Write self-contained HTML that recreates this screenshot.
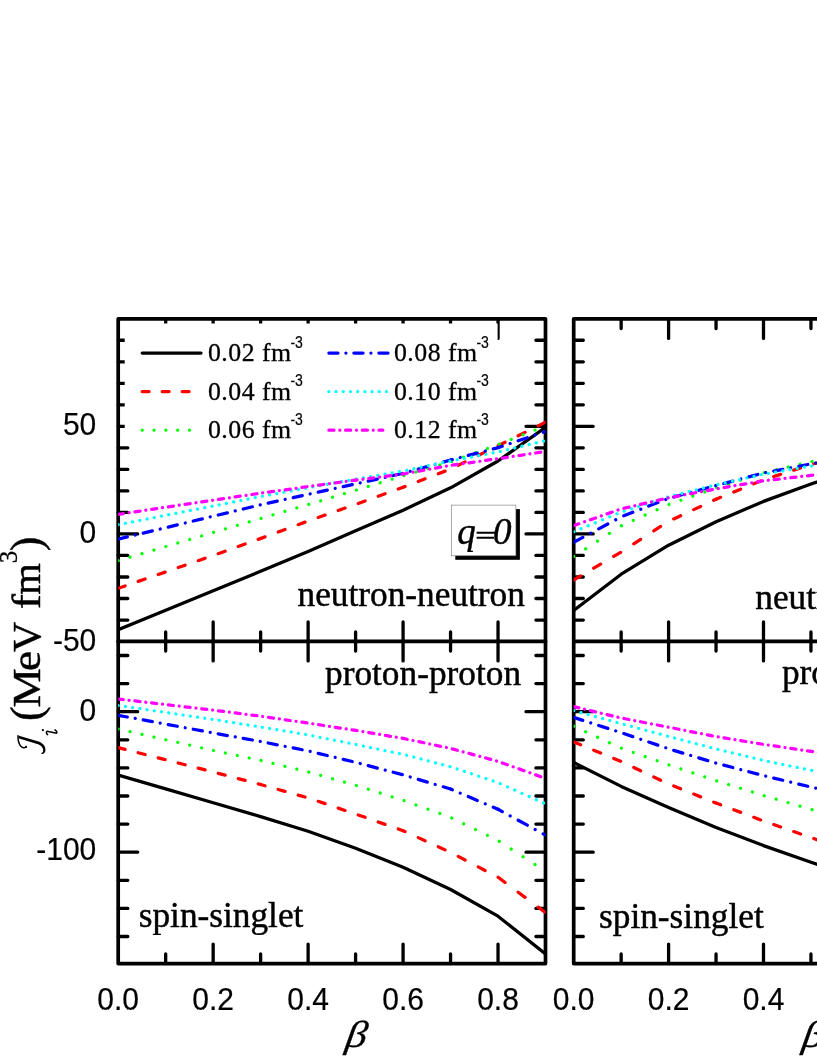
<!DOCTYPE html>
<html><head><meta charset="utf-8"><title>chart</title>
<style>html,body{margin:0;padding:0;background:#fff}svg{display:block}text{font-family:"Liberation Serif",serif;fill:#000;stroke:#000;stroke-width:0.3px;stroke-linejoin:round}.b{stroke-width:0.45px}text{filter:grayscale(1)}.s{font-family:"Liberation Sans",sans-serif;stroke-width:0.2px}</style>
</head><body>
<svg width="817" height="1058" viewBox="0 0 817 1058">
<rect width="817" height="1058" fill="#fff"/>
<defs>
<clipPath id="c1t"><rect x="118.2" y="318.95" width="427.3" height="322.45"/></clipPath>
<clipPath id="c1b"><rect x="118.2" y="641.4" width="427.3" height="322.20000000000005"/></clipPath>
<clipPath id="c2t"><rect x="573.7" y="318.95" width="253.29999999999995" height="322.45"/></clipPath>
<clipPath id="c2b"><rect x="573.7" y="641.4" width="253.29999999999995" height="322.20000000000005"/></clipPath>
</defs>
<path d="M118.20 620.03H127.80M535.90 620.03H545.50M118.20 598.51H127.80M535.90 598.51H545.50M118.20 576.99H127.80M535.90 576.99H545.50M118.20 555.47H127.80M535.90 555.47H545.50M118.20 533.95H137.70M526.00 533.95H545.50M118.20 512.43H127.80M535.90 512.43H545.50M118.20 490.91H127.80M535.90 490.91H545.50M118.20 469.39H127.80M535.90 469.39H545.50M118.20 447.87H127.80M535.90 447.87H545.50M118.20 426.35H137.70M526.00 426.35H545.50M118.20 404.83H127.80M535.90 404.83H545.50M118.20 383.31H127.80M535.90 383.31H545.50M118.20 361.79H127.80M535.90 361.79H545.50M118.20 340.27H127.80M535.90 340.27H545.50M118.20 936.50H127.80M535.90 936.50H545.50M118.20 908.40H127.80M535.90 908.40H545.50M118.20 880.30H127.80M535.90 880.30H545.50M118.20 852.20H137.70M526.00 852.20H545.50M118.20 824.10H127.80M535.90 824.10H545.50M118.20 796.00H127.80M535.90 796.00H545.50M118.20 767.90H127.80M535.90 767.90H545.50M118.20 739.80H127.80M535.90 739.80H545.50M118.20 711.70H137.70M526.00 711.70H545.50M118.20 683.60H127.80M535.90 683.60H545.50M118.20 655.50H127.80M535.90 655.50H545.50M573.70 620.03H583.30M573.70 598.51H583.30M573.70 576.99H583.30M573.70 555.47H583.30M573.70 533.95H593.20M573.70 512.43H583.30M573.70 490.91H583.30M573.70 469.39H583.30M573.70 447.87H583.30M573.70 426.35H593.20M573.70 404.83H583.30M573.70 383.31H583.30M573.70 361.79H583.30M573.70 340.27H583.30M573.70 936.50H583.30M573.70 908.40H583.30M573.70 880.30H583.30M573.70 852.20H593.20M573.70 824.10H583.30M573.70 796.00H583.30M573.70 767.90H583.30M573.70 739.80H583.30M573.70 711.70H593.20M573.70 683.60H583.30M573.70 655.50H583.30M165.68 318.95V328.55M165.68 631.80V651.00M165.68 954.00V963.60M213.16 318.95V338.45M213.16 621.90V660.90M213.16 944.10V963.60M260.64 318.95V328.55M260.64 631.80V651.00M260.64 954.00V963.60M308.12 318.95V338.45M308.12 621.90V660.90M308.12 944.10V963.60M355.60 318.95V328.55M355.60 631.80V651.00M355.60 954.00V963.60M403.08 318.95V338.45M403.08 621.90V660.90M403.08 944.10V963.60M450.56 318.95V328.55M450.56 631.80V651.00M450.56 954.00V963.60M498.04 318.95V338.45M498.04 621.90V660.90M498.04 944.10V963.60M621.15 318.95V328.55M621.15 631.80V651.00M621.15 954.00V963.60M668.60 318.95V338.45M668.60 621.90V660.90M668.60 944.10V963.60M716.05 318.95V328.55M716.05 631.80V651.00M716.05 954.00V963.60M763.50 318.95V338.45M763.50 621.90V660.90M763.50 944.10V963.60M810.95 318.95V328.55M810.95 631.80V651.00M810.95 954.00V963.60M858.40 318.95V338.45M858.40 621.90V660.90M858.40 944.10V963.60" stroke="#000" stroke-width="3.3" fill="none" stroke-linecap="round"/>
<g stroke="#000" stroke-width="3.7" fill="none" stroke-linejoin="round" stroke-linecap="round">
<rect x="118.2" y="318.95" width="427.3" height="644.6500000000001"/>
<path d="M118.2 641.4H545.5"/>
<path d="M827 318.95H573.7V963.6H827M573.7 641.4H827"/>
</g>
<rect x="124.7" y="323.5" width="372.90000000000003" height="113.5" fill="#fff"/>
<g clip-path="url(#c1t)" fill="none" stroke-width="3.25" stroke-linecap="round" stroke-linejoin="round">
<polyline points="118.2,629.8 165.7,610.2 213.2,590.7 260.6,571.3 308.1,551.4 355.6,530.8 403.1,510.2 450.6,487.8 498.0,461.0 545.5,427.4" stroke="#000"/>
<g stroke="#ff0000">
<path d="M118.2 588.3L165.7 571.9" stroke-dasharray="7.300 13.859" stroke-dashoffset="0.000"/>
<path d="M165.7 571.9L213.2 555.5" stroke-dasharray="7.300 13.859" stroke-dashoffset="7.914"/>
<path d="M213.2 555.5L260.6 538.5" stroke-dasharray="7.329 13.914" stroke-dashoffset="15.890"/>
<path d="M260.6 538.5L308.1 521.0" stroke-dasharray="7.354 13.961" stroke-dashoffset="2.600"/>
<path d="M308.1 521.0L355.6 504.4" stroke-dasharray="7.310 13.878" stroke-dashoffset="10.509"/>
<path d="M355.6 504.4L403.1 487.3" stroke-dasharray="7.334 13.924" stroke-dashoffset="18.494"/>
<path d="M403.1 487.3L450.6 469.0" stroke-dasharray="7.395 14.039" stroke-dashoffset="5.230"/>
<path d="M450.6 469.0L498.0 445.8" stroke-dasharray="7.680 14.580" stroke-dashoffset="13.757"/>
<path d="M498.0 445.8L545.5 422.2" stroke-dasharray="7.705 14.629" stroke-dashoffset="22.156"/>
</g>
<g stroke="#00ff00">
<path d="M118.2 560.7L165.7 546.6" stroke-dasharray="0.010 12.414" stroke-dashoffset="0.000"/>
<path d="M165.7 546.6L213.2 532.5" stroke-dasharray="0.010 12.414" stroke-dashoffset="12.257"/>
<path d="M213.2 532.5L260.6 518.5" stroke-dasharray="0.010 12.407" stroke-dashoffset="12.083"/>
<path d="M260.6 518.5L308.1 504.6" stroke-dasharray="0.010 12.399" stroke-dashoffset="11.910"/>
<path d="M308.1 504.6L355.6 490.3" stroke-dasharray="0.010 12.428" stroke-dashoffset="11.770"/>
<path d="M355.6 490.3L403.1 475.8" stroke-dasharray="0.010 12.443" stroke-dashoffset="11.617"/>
<path d="M403.1 475.8L450.6 461.8" stroke-dasharray="0.010 12.407" stroke-dashoffset="11.416"/>
<path d="M450.6 461.8L498.0 444.6" stroke-dasharray="0.011 12.657" stroke-dashoffset="11.476"/>
<path d="M498.0 444.6L545.5 426.0" stroke-dasharray="0.011 12.781" stroke-dashoffset="11.417"/>
</g>
<g stroke="#0000ff">
<path d="M118.2 539.1L165.7 527.7" stroke-dasharray="9.359 8.125 0.010 8.217" stroke-dashoffset="0.000"/>
<path d="M165.7 527.7L213.2 516.2" stroke-dasharray="9.363 8.128 0.010 8.221" stroke-dashoffset="23.130"/>
<path d="M213.2 516.2L260.6 504.8" stroke-dasharray="9.359 8.125 0.010 8.217" stroke-dashoffset="20.527"/>
<path d="M260.6 504.8L308.1 494.3" stroke-dasharray="9.320 8.091 0.010 8.183" stroke-dashoffset="17.861"/>
<path d="M308.1 494.3L355.6 483.9" stroke-dasharray="9.316 8.087 0.010 8.179" stroke-dashoffset="15.274"/>
<path d="M355.6 483.9L403.1 473.3" stroke-dasharray="9.324 8.094 0.010 8.187" stroke-dashoffset="12.705"/>
<path d="M403.1 473.3L450.6 460.0" stroke-dasharray="9.450 8.204 0.010 8.298" stroke-dashoffset="10.260"/>
<path d="M450.6 460.0L498.0 447.7" stroke-dasharray="9.400 8.161 0.010 8.254" stroke-dashoffset="7.603"/>
<path d="M498.0 447.7L545.5 431.5" stroke-dasharray="9.615 8.347 0.011 8.442" stroke-dashoffset="5.114"/>
</g>
<g stroke="#00ffff">
<path d="M118.2 524.7L165.7 515.3" stroke-dasharray="0.010 7.340" stroke-dashoffset="0.000"/>
<path d="M165.7 515.3L213.2 506.0" stroke-dasharray="0.010 7.337" stroke-dashoffset="4.300"/>
<path d="M213.2 506.0L260.6 496.6" stroke-dasharray="0.010 7.340" stroke-dashoffset="1.254"/>
<path d="M260.6 496.6L308.1 487.8" stroke-dasharray="0.010 7.323" stroke-dashoffset="5.543"/>
<path d="M308.1 487.8L355.6 479.2" stroke-dasharray="0.010 7.317" stroke-dashoffset="2.500"/>
<path d="M355.6 479.2L403.1 471.0" stroke-dasharray="0.010 7.307" stroke-dashoffset="6.779"/>
<path d="M403.1 471.0L450.6 461.0" stroke-dasharray="0.010 7.358" stroke-dashoffset="3.771"/>
<path d="M450.6 461.0L498.0 452.0" stroke-dasharray="0.010 7.328" stroke-dashoffset="0.712"/>
<path d="M498.0 452.0L545.5 440.6" stroke-dasharray="0.010 7.405" stroke-dashoffset="5.060"/>
</g>
<g stroke="#ff00ff">
<path d="M118.2 514.3L165.7 507.2" stroke-dasharray="5.157 5.864 0.010 5.854" stroke-dashoffset="0.000"/>
<path d="M165.7 507.2L213.2 500.2" stroke-dasharray="5.155 5.863 0.010 5.853" stroke-dashoffset="14.232"/>
<path d="M213.2 500.2L260.6 493.2" stroke-dasharray="5.155 5.863 0.010 5.853" stroke-dashoffset="11.584"/>
<path d="M260.6 493.2L308.1 486.6" stroke-dasharray="5.149 5.856 0.010 5.846" stroke-dashoffset="8.925"/>
<path d="M308.1 486.6L355.6 480.2" stroke-dasharray="5.146 5.852 0.010 5.842" stroke-dashoffset="6.276"/>
<path d="M355.6 480.2L403.1 474.0" stroke-dasharray="5.143 5.849 0.010 5.839" stroke-dashoffset="3.631"/>
<path d="M403.1 474.0L450.6 465.4" stroke-dasharray="5.183 5.894 0.010 5.884" stroke-dashoffset="0.996"/>
<path d="M450.6 465.4L498.0 458.7" stroke-dasharray="5.151 5.857 0.010 5.847" stroke-dashoffset="15.209"/>
<path d="M498.0 458.7L545.5 451.5" stroke-dasharray="5.158 5.866 0.010 5.856" stroke-dashoffset="12.582"/>
</g>
</g>
<g clip-path="url(#c1b)" fill="none" stroke-width="3.25" stroke-linecap="round" stroke-linejoin="round">
<polyline points="118.2,775.0 165.7,788.9 213.2,802.8 260.6,816.6 308.1,831.2 355.6,848.3 403.1,867.2 450.6,889.5 498.0,916.2 545.5,954.0" stroke="#000"/>
<g stroke="#ff0000">
<path d="M118.2 747.6L165.7 759.8" stroke-dasharray="7.124 13.526" stroke-dashoffset="0.000"/>
<path d="M165.7 759.8L213.2 772.0" stroke-dasharray="7.124 13.526" stroke-dashoffset="7.723"/>
<path d="M213.2 772.0L260.6 784.5" stroke-dasharray="7.135 13.546" stroke-dashoffset="15.470"/>
<path d="M260.6 784.5L308.1 797.9" stroke-dasharray="7.170 13.612" stroke-dashoffset="2.535"/>
<path d="M308.1 797.9L355.6 814.0" stroke-dasharray="7.286 13.833" stroke-dashoffset="10.475"/>
<path d="M355.6 814.0L403.1 830.7" stroke-dasharray="7.314 13.887" stroke-dashoffset="18.445"/>
<path d="M403.1 830.7L450.6 852.4" stroke-dasharray="7.586 14.403" stroke-dashoffset="5.366"/>
<path d="M450.6 852.4L498.0 877.2" stroke-dasharray="7.785 14.779" stroke-dashoffset="13.944"/>
<path d="M498.0 877.2L545.5 912.6" stroke-dasharray="8.607 16.340" stroke-dashoffset="24.747"/>
</g>
<g stroke="#00ff00">
<path d="M118.2 729.0L165.7 739.7" stroke-dasharray="0.010 12.198" stroke-dashoffset="0.000"/>
<path d="M165.7 739.7L213.2 750.4" stroke-dasharray="0.010 12.198" stroke-dashoffset="12.045"/>
<path d="M213.2 750.4L260.6 760.4" stroke-dasharray="0.010 12.161" stroke-dashoffset="11.844"/>
<path d="M260.6 760.4L308.1 771.9" stroke-dasharray="0.010 12.244" stroke-dashoffset="11.760"/>
<path d="M308.1 771.9L355.6 785.2" stroke-dasharray="0.010 12.358" stroke-dashoffset="11.704"/>
<path d="M355.6 785.2L403.1 800.3" stroke-dasharray="0.010 12.487" stroke-dashoffset="11.658"/>
<path d="M403.1 800.3L450.6 817.4" stroke-dasharray="0.011 12.648" stroke-dashoffset="11.639"/>
<path d="M450.6 817.4L498.0 840.5" stroke-dasharray="0.011 13.234" stroke-dashoffset="11.999"/>
<path d="M498.0 840.5L545.5 871.3" stroke-dasharray="0.012 14.185" stroke-dashoffset="12.671"/>
</g>
<g stroke="#0000ff">
<path d="M118.2 715.3L165.7 724.1" stroke-dasharray="9.255 8.035 0.010 8.126" stroke-dashoffset="0.000"/>
<path d="M165.7 724.1L213.2 733.0" stroke-dasharray="9.258 8.038 0.010 8.129" stroke-dashoffset="22.872"/>
<path d="M213.2 733.0L260.6 741.5" stroke-dasharray="9.245 8.026 0.010 8.117" stroke-dashoffset="20.277"/>
<path d="M260.6 741.5L308.1 750.9" stroke-dasharray="9.277 8.053 0.010 8.145" stroke-dashoffset="17.778"/>
<path d="M308.1 750.9L355.6 762.3" stroke-dasharray="9.359 8.125 0.010 8.217" stroke-dashoffset="15.344"/>
<path d="M355.6 762.3L403.1 774.9" stroke-dasharray="9.415 8.173 0.010 8.267" stroke-dashoffset="12.829"/>
<path d="M403.1 774.9L450.6 789.0" stroke-dasharray="9.493 8.241 0.010 8.335" stroke-dashoffset="10.306"/>
<path d="M450.6 789.0L498.0 809.3" stroke-dasharray="9.897 8.592 0.011 8.690" stroke-dashoffset="8.004"/>
<path d="M498.0 809.3L545.5 835.1" stroke-dasharray="10.357 8.991 0.011 9.093" stroke-dashoffset="5.508"/>
</g>
<g stroke="#00ffff">
<path d="M118.2 705.5L165.7 712.5" stroke-dasharray="0.010 7.278" stroke-dashoffset="0.000"/>
<path d="M165.7 712.5L213.2 719.5" stroke-dasharray="0.010 7.278" stroke-dashoffset="4.266"/>
<path d="M213.2 719.5L260.6 727.0" stroke-dasharray="0.010 7.289" stroke-dashoffset="1.245"/>
<path d="M260.6 727.0L308.1 734.9" stroke-dasharray="0.010 7.299" stroke-dashoffset="5.525"/>
<path d="M308.1 734.9L355.6 744.5" stroke-dasharray="0.010 7.346" stroke-dashoffset="2.510"/>
<path d="M355.6 744.5L403.1 754.3" stroke-dasharray="0.010 7.352" stroke-dashoffset="6.821"/>
<path d="M403.1 754.3L450.6 766.8" stroke-dasharray="0.010 7.445" stroke-dashoffset="3.816"/>
<path d="M450.6 766.8L498.0 782.6" stroke-dasharray="0.011 7.588" stroke-dashoffset="0.738"/>
<path d="M498.0 782.6L545.5 803.9" stroke-dasharray="0.011 7.891" stroke-dashoffset="5.392"/>
</g>
<g stroke="#ff00ff">
<path d="M118.2 699.0L165.7 704.6" stroke-dasharray="5.135 5.840 0.010 5.830" stroke-dashoffset="0.000"/>
<path d="M165.7 704.6L213.2 710.1" stroke-dasharray="5.134 5.839 0.010 5.829" stroke-dashoffset="14.174"/>
<path d="M213.2 710.1L260.6 716.2" stroke-dasharray="5.142 5.848 0.010 5.838" stroke-dashoffset="11.554"/>
<path d="M260.6 716.2L308.1 723.1" stroke-dasharray="5.154 5.861 0.010 5.851" stroke-dashoffset="8.933"/>
<path d="M308.1 723.1L355.6 730.4" stroke-dasharray="5.160 5.868 0.010 5.858" stroke-dashoffset="6.293"/>
<path d="M355.6 730.4L403.1 738.4" stroke-dasharray="5.172 5.882 0.010 5.872" stroke-dashoffset="3.651"/>
<path d="M403.1 738.4L450.6 748.4" stroke-dasharray="5.212 5.927 0.010 5.917" stroke-dashoffset="1.001"/>
<path d="M450.6 748.4L498.0 761.4" stroke-dasharray="5.288 6.013 0.010 6.003" stroke-dashoffset="15.614"/>
<path d="M498.0 761.4L545.5 778.4" stroke-dasharray="5.417 6.161 0.011 6.150" stroke-dashoffset="13.213"/>
</g>
</g>
<g clip-path="url(#c2t)" fill="none" stroke-width="3.25" stroke-linecap="round" stroke-linejoin="round">
<polyline points="573.7,610.4 621.2,574.2 668.6,545.2 716.1,521.7 763.5,501.4 811.0,484.0 858.4,468.0" stroke="#000"/>
<g stroke="#ff0000">
<path d="M573.7 580.0L621.2 552.0" stroke-dasharray="8.012 15.211" stroke-dashoffset="0.000"/>
<path d="M621.2 552.0L668.6 521.3" stroke-dasharray="8.218 15.603" stroke-dashoffset="8.873"/>
<path d="M668.6 521.3L716.1 499.2" stroke-dasharray="7.612 14.451" stroke-dashoffset="16.437"/>
<path d="M716.1 499.2L763.5 479.8" stroke-dasharray="7.454 14.153" stroke-dashoffset="2.539"/>
<path d="M763.5 479.8L811.0 464.6" stroke-dasharray="7.245 13.756" stroke-dashoffset="10.291"/>
<path d="M811.0 464.6L858.4 451.0" stroke-dasharray="7.178 13.627" stroke-dashoffset="17.945"/>
</g>
<g stroke="#00ff00">
<path d="M573.7 556.5L621.2 525.8" stroke-dasharray="0.012 14.174" stroke-dashoffset="0.000"/>
<path d="M621.2 525.8L668.6 504.6" stroke-dasharray="0.011 13.034" stroke-dashoffset="12.837"/>
<path d="M668.6 504.6L716.1 488.0" stroke-dasharray="0.011 12.607" stroke-dashoffset="12.215"/>
<path d="M716.1 488.0L763.5 472.7" stroke-dasharray="0.011 12.503" stroke-dashoffset="11.915"/>
<path d="M763.5 472.7L811.0 461.7" stroke-dasharray="0.010 12.216" stroke-dashoffset="11.446"/>
<path d="M811.0 461.7L858.4 452.0" stroke-dasharray="0.010 12.146" stroke-dashoffset="11.187"/>
</g>
<g stroke="#0000ff">
<path d="M573.7 542.2L621.2 516.8" stroke-dasharray="10.322 8.961 0.011 9.063" stroke-dashoffset="0.000"/>
<path d="M621.2 516.8L668.6 498.4" stroke-dasharray="9.760 8.473 0.011 8.570" stroke-dashoffset="24.079"/>
<path d="M668.6 498.4L716.1 485.5" stroke-dasharray="9.430 8.187 0.010 8.280" stroke-dashoffset="20.622"/>
<path d="M716.1 485.5L763.5 473.0" stroke-dasharray="9.410 8.170 0.010 8.263" stroke-dashoffset="17.942"/>
<path d="M763.5 473.0L811.0 463.9" stroke-dasharray="9.266 8.044 0.010 8.136" stroke-dashoffset="15.070"/>
<path d="M811.0 463.9L858.4 456.0" stroke-dasharray="9.225 8.009 0.010 8.100" stroke-dashoffset="12.419"/>
</g>
<g stroke="#00ffff">
<path d="M573.7 531.7L621.2 512.1" stroke-dasharray="0.011 7.790" stroke-dashoffset="0.000"/>
<path d="M621.2 512.1L668.6 496.8" stroke-dasharray="0.011 7.565" stroke-dashoffset="4.402"/>
<path d="M668.6 496.8L716.1 484.8" stroke-dasharray="0.010 7.427" stroke-dashoffset="1.207"/>
<path d="M716.1 484.8L763.5 474.2" stroke-dasharray="0.010 7.377" stroke-dashoffset="5.492"/>
<path d="M763.5 474.2L811.0 466.1" stroke-dasharray="0.010 7.304" stroke-dashoffset="2.374"/>
<path d="M811.0 466.1L858.4 459.0" stroke-dasharray="0.010 7.280" stroke-dashoffset="6.603"/>
</g>
<g stroke="#ff00ff">
<path d="M573.7 525.6L621.2 508.9" stroke-dasharray="5.407 6.149 0.011 6.138" stroke-dashoffset="0.000"/>
<path d="M621.2 508.9L668.6 497.8" stroke-dasharray="5.238 5.957 0.010 5.946" stroke-dashoffset="14.429"/>
<path d="M668.6 497.8L716.1 488.9" stroke-dasharray="5.189 5.901 0.010 5.891" stroke-dashoffset="11.599"/>
<path d="M716.1 488.9L763.5 480.8" stroke-dasharray="5.174 5.884 0.010 5.874" stroke-dashoffset="8.877"/>
<path d="M763.5 480.8L811.0 475.4" stroke-dasharray="5.133 5.837 0.010 5.827" stroke-dashoffset="6.139"/>
<path d="M811.0 475.4L858.4 471.0" stroke-dasharray="5.122 5.825 0.010 5.815" stroke-dashoffset="3.465"/>
</g>
</g>
<g clip-path="url(#c2b)" fill="none" stroke-width="3.25" stroke-linecap="round" stroke-linejoin="round">
<polyline points="573.7,762.5 621.2,786.4 668.6,807.5 716.1,827.4 763.5,845.6 811.0,862.2 858.4,878.0" stroke="#000"/>
<g stroke="#ff0000">
<path d="M573.7 741.9L621.2 761.5" stroke-dasharray="7.465 14.174" stroke-dashoffset="0.000"/>
<path d="M621.2 761.5L668.6 784.0" stroke-dasharray="7.636 14.498" stroke-dashoffset="8.245"/>
<path d="M668.6 784.0L716.1 803.1" stroke-dasharray="7.438 14.121" stroke-dashoffset="16.062"/>
<path d="M716.1 803.1L763.5 821.0" stroke-dasharray="7.375 14.001" stroke-dashoffset="2.512"/>
<path d="M763.5 821.0L811.0 837.6" stroke-dasharray="7.310 13.879" stroke-dashoffset="10.382"/>
<path d="M811.0 837.6L858.4 854.0" stroke-dasharray="7.301 13.860" stroke-dashoffset="18.251"/>
</g>
<g stroke="#00ff00">
<path d="M573.7 726.2L621.2 748.2" stroke-dasharray="0.011 13.117" stroke-dashoffset="0.000"/>
<path d="M621.2 748.2L668.6 764.8" stroke-dasharray="0.011 12.607" stroke-dashoffset="12.417"/>
<path d="M668.6 764.8L716.1 780.7" stroke-dasharray="0.011 12.550" stroke-dashoffset="12.160"/>
<path d="M716.1 780.7L763.5 795.5" stroke-dasharray="0.010 12.465" stroke-dashoffset="11.879"/>
<path d="M763.5 795.5L811.0 809.3" stroke-dasharray="0.010 12.393" stroke-dashoffset="11.612"/>
<path d="M811.0 809.3L858.4 823.0" stroke-dasharray="0.010 12.386" stroke-dashoffset="11.408"/>
</g>
<g stroke="#0000ff">
<path d="M573.7 717.4L621.2 732.7" stroke-dasharray="9.561 8.301 0.011 8.395" stroke-dashoffset="0.000"/>
<path d="M621.2 732.7L668.6 748.8" stroke-dasharray="9.610 8.342 0.011 8.437" stroke-dashoffset="23.707"/>
<path d="M668.6 748.8L716.1 763.1" stroke-dasharray="9.504 8.251 0.010 8.345" stroke-dashoffset="20.784"/>
<path d="M716.1 763.1L763.5 775.6" stroke-dasharray="9.410 8.170 0.010 8.263" stroke-dashoffset="17.942"/>
<path d="M763.5 775.6L811.0 787.0" stroke-dasharray="9.359 8.125 0.010 8.217" stroke-dashoffset="15.221"/>
<path d="M811.0 787.0L858.4 798.0" stroke-dasharray="9.341 8.110 0.010 8.202" stroke-dashoffset="12.575"/>
</g>
<g stroke="#00ffff">
<path d="M573.7 710.6L621.2 723.7" stroke-dasharray="0.010 7.469" stroke-dashoffset="0.000"/>
<path d="M621.2 723.7L668.6 736.4" stroke-dasharray="0.010 7.453" stroke-dashoffset="4.337"/>
<path d="M668.6 736.4L716.1 749.0" stroke-dasharray="0.010 7.450" stroke-dashoffset="1.211"/>
<path d="M716.1 749.0L763.5 760.5" stroke-dasharray="0.010 7.408" stroke-dashoffset="5.515"/>
<path d="M763.5 760.5L811.0 770.3" stroke-dasharray="0.010 7.352" stroke-dashoffset="2.389"/>
<path d="M811.0 770.3L858.4 780.0" stroke-dasharray="0.010 7.349" stroke-dashoffset="6.665"/>
</g>
<g stroke="#ff00ff">
<path d="M573.7 706.6L621.2 718.0" stroke-dasharray="5.245 5.965 0.010 5.955" stroke-dashoffset="0.000"/>
<path d="M621.2 718.0L668.6 727.2" stroke-dasharray="5.195 5.908 0.010 5.898" stroke-dashoffset="14.312"/>
<path d="M668.6 727.2L716.1 736.6" stroke-dasharray="5.199 5.913 0.010 5.903" stroke-dashoffset="11.622"/>
<path d="M716.1 736.6L763.5 744.4" stroke-dasharray="5.168 5.878 0.010 5.868" stroke-dashoffset="8.867"/>
<path d="M763.5 744.4L811.0 751.4" stroke-dasharray="5.155 5.863 0.010 5.853" stroke-dashoffset="6.166"/>
<path d="M811.0 751.4L858.4 758.0" stroke-dasharray="5.149 5.856 0.010 5.846" stroke-dashoffset="3.483"/>
</g>
</g>
<g fill="none" stroke-width="3.25" stroke-linecap="round">
<path d="M142.2 353.0H201.0" stroke="#000"/>
<path d="M142.2 391.5H201.0" stroke="#ff0000" stroke-dasharray="6.9 13.1"/>
<path d="M142.2 430.2H201.0" stroke="#00ff00" stroke-dasharray="0.01 11.8"/>
<path d="M328.9 353.0H388.2" stroke="#0000ff" stroke-dasharray="9.1 7.9 0.01 7.99"/>
<path d="M328.8 391.5H389.0" stroke="#00ffff" stroke-dasharray="0.01 7.2"/>
<path d="M328.9 430.2H382.8" stroke="#ff00ff" stroke-dasharray="5.1 5.8 0.01 5.79"/>
</g>
<text x="207.89999999999998" y="361.2" font-size="25.8" letter-spacing="0.5">0.02 fm</text>
<text class="s" transform="translate(290.4 347.5) scale(0.9 1)" font-size="15.6">-3</text>
<text x="207.89999999999998" y="399.6" font-size="25.8" letter-spacing="0.5">0.04 fm</text>
<text class="s" transform="translate(290.4 385.9) scale(0.9 1)" font-size="15.6">-3</text>
<text x="207.89999999999998" y="438.2" font-size="25.8" letter-spacing="0.5">0.06 fm</text>
<text class="s" transform="translate(290.4 424.5) scale(0.9 1)" font-size="15.6">-3</text>
<text x="393.9" y="361.2" font-size="25.8" letter-spacing="0.5">0.08 fm</text>
<text class="s" transform="translate(476.4 347.5) scale(0.9 1)" font-size="15.6">-3</text>
<text x="393.9" y="399.6" font-size="25.8" letter-spacing="0.5">0.10 fm</text>
<text class="s" transform="translate(476.4 385.9) scale(0.9 1)" font-size="15.6">-3</text>
<text x="393.9" y="438.2" font-size="25.8" letter-spacing="0.5">0.12 fm</text>
<text class="s" transform="translate(476.4 424.5) scale(0.9 1)" font-size="15.6">-3</text>
<rect x="455.3" y="509.1" width="64.6" height="50.7" fill="#000"/>
<rect x="451.3" y="505.1" width="64.6" height="50.7" fill="#fff" stroke="#777" stroke-width="0.6"/>
<text x="457.2" y="543.5" font-size="37" class="b" font-style="italic">q</text>
<text x="493.0" y="543.5" font-size="37" class="b" font-style="italic">0</text>
<path d="M476.6 532.7H495.5M476.6 537.8H494" stroke="#000" stroke-width="2.0" fill="none"/>
<text x="297.5" y="606.3" font-size="35.3" class="b">neutron-neutron</text>
<text x="325.0" y="684.6" font-size="35.3" class="b">proton-proton</text>
<text x="138.7" y="926.5" font-size="35.3" class="b">spin-singlet</text>
<text x="755.3" y="609.2" font-size="35.3" class="b">neutron-proton</text>
<text x="781.9" y="683.8" font-size="35.3" class="b">proton-neutron</text>
<text x="599.0" y="927.9" font-size="35.3" class="b">spin-singlet</text>
<g class="s" font-size="30">
<text class="s" transform="translate(96.3 435.2) scale(1 1.045)" text-anchor="end">50</text>
<text class="s" transform="translate(96.3 542.6) scale(1 1.045)" text-anchor="end">0</text>
<text class="s" transform="translate(96.3 651.2) scale(1 1.045)" text-anchor="end">-50</text>
<text class="s" transform="translate(96.3 720.5) scale(1 1.045)" text-anchor="end">0</text>
<text class="s" transform="translate(96.3 860.3) scale(1 1.045)" text-anchor="end">-100</text>
<text class="s" transform="translate(118.2 1009.6) scale(1 1.07)" text-anchor="middle">0.0</text>
<text class="s" transform="translate(213.2 1009.6) scale(1 1.07)" text-anchor="middle">0.2</text>
<text class="s" transform="translate(308.1 1009.6) scale(1 1.07)" text-anchor="middle">0.4</text>
<text class="s" transform="translate(403.1 1009.6) scale(1 1.07)" text-anchor="middle">0.6</text>
<text class="s" transform="translate(498.0 1009.6) scale(1 1.07)" text-anchor="middle">0.8</text>
<text class="s" transform="translate(573.7 1009.6) scale(1 1.07)" text-anchor="middle">0.0</text>
<text class="s" transform="translate(668.6 1009.6) scale(1 1.07)" text-anchor="middle">0.2</text>
<text class="s" transform="translate(763.5 1009.6) scale(1 1.07)" text-anchor="middle">0.4</text>
<text class="s" transform="translate(858.4 1009.6) scale(1 1.07)" text-anchor="middle">0.6</text>
</g>
<text transform="translate(344.5 1047) skewX(-9) scale(1.12 1)" font-size="37.5" font-style="italic">β</text>
<text transform="translate(801.2 1047) skewX(-9) scale(1.12 1)" font-size="37.5" font-style="italic">β</text>
<g transform="rotate(-90)">
<text x="-721.0" y="40.8" font-size="44" class="b">(</text>
<text transform="translate(-707.6 39.6) scale(1.09 1)" font-size="40.6" class="b">M</text>
<text transform="translate(-671.1 39.6) scale(1.12 1)" font-size="40.6" class="b">e</text>
<text transform="translate(-651.9 39.6) scale(1.03 1)" font-size="40.6" class="b">V</text>
<text transform="translate(-609.2 39.6) scale(1.12 1)" font-size="40.6" class="b">f</text>
<text transform="translate(-594.7 39.6) scale(1.0 1)" font-size="40.6" class="b">m</text>
<text x="-563.2" y="17.3" font-size="25">3</text>
<text x="-551.2" y="40.8" font-size="44" class="b">)</text>
</g>
<path d="M18.0 735.8C17.9 739.5 18.6 743.5 20.6 746.0C22.3 748.0 24.6 748.3 26.0 747.0" fill="none" stroke="#000" stroke-width="1.5" stroke-linecap="round"/>
<circle cx="26.0" cy="746.9" r="1.1" fill="#000"/>
<path d="M18.0 735.6L19.2 738.6L37.2 743.9C41.5 745.4 43.6 748.0 43.2 751.0C42.9 752.6 41.8 752.9 41.0 753.3C42.2 754.4 44.4 754.0 45.2 751.5C46.3 747.6 44.0 743.6 38.6 741.5Z" fill="#000"/>
<circle cx="42.9" cy="730.1" r="1.15" fill="#000"/>
<path d="M47.6 734.6C46.2 733.6 46.0 731.9 47.0 731.3L56.6 733.2C57.4 732.6 56.6 730.9 55.0 729.8" fill="none" stroke="#000" stroke-width="1.5" stroke-linecap="round" stroke-linejoin="round"/>
</svg></body></html>
